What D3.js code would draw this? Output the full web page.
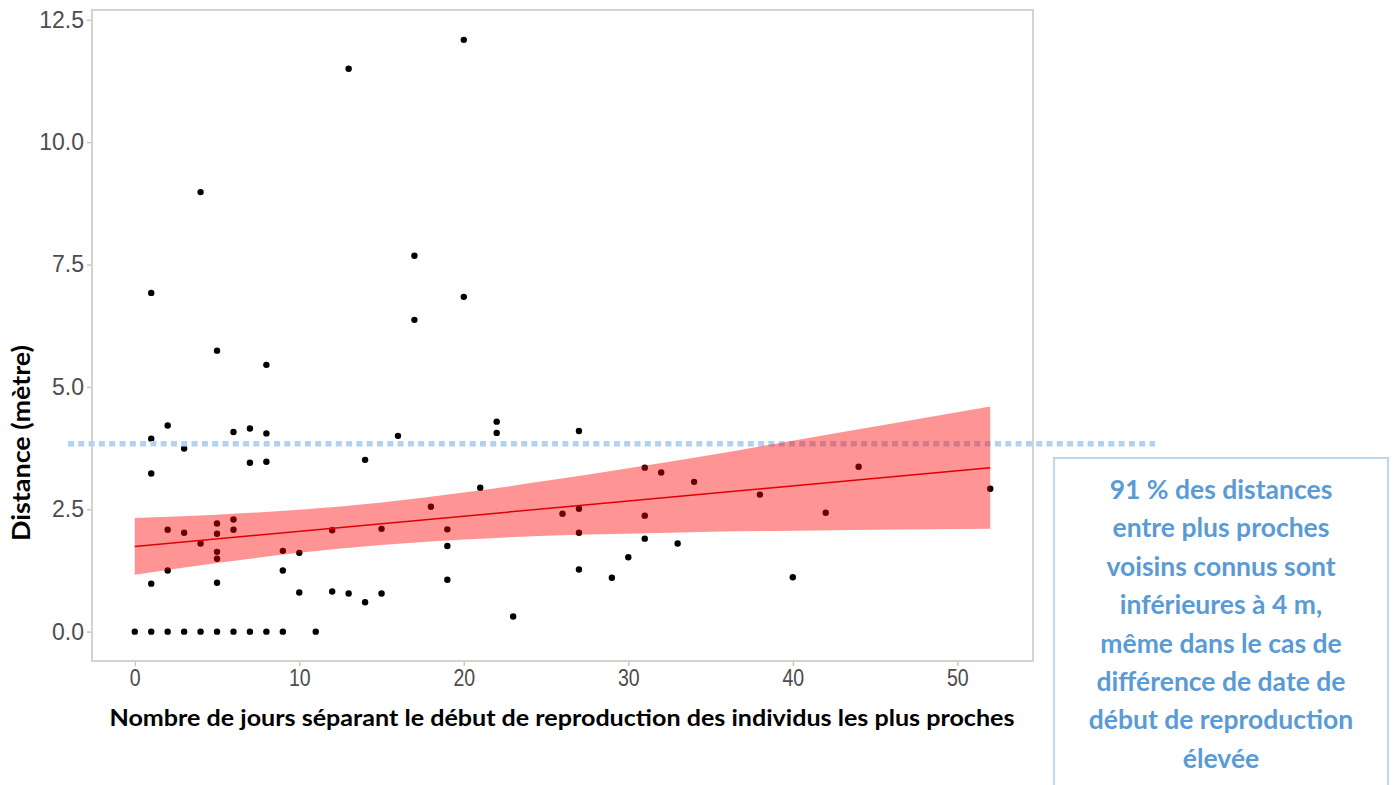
<!DOCTYPE html>
<html>
<head>
<meta charset="utf-8">
<script src="https://cdn.jsdelivr.net/npm/d3@7"></script>
<style>
  body { margin: 0; background: #fff; }
  svg { display: block; }
</style>
</head>
<body>
<div id="chart"></div>
<script>
// jours séparant le début de reproduction / distance au plus proche voisin (m)
let days = [
  0,
  1, 1, 1, 1, 1,
  2, 2, 2, 2,
  3, 3, 3,
  4, 4, 4,
  5, 5, 5, 5, 5, 5, 5,
  6, 6, 6, 6,
  7, 7, 7,
  8, 8, 8, 8,
  9, 9, 9,
  10, 10,
  11,
  12, 12,
  13, 13,
  14, 14,
  15, 15,
  16,
  17, 17,
  18,
  19, 19, 19,
  20, 20,
  21,
  22, 22,
  23,
  26,
  27, 27, 27, 27,
  29,
  30,
  31, 31, 31,
  32,
  33,
  34,
  38,
  40,
  42,
  44,
  52
];
let distances = [
  0,
  0, 0.98, 3.23, 3.94, 6.92,
  0, 1.25, 2.08, 4.21,
  0, 2.02, 3.74,
  0, 1.8, 8.98,
  0, 1.0, 1.49, 1.63, 2.0, 2.21, 5.74,
  0, 2.08, 2.29, 4.08,
  0, 3.45, 4.15,
  0, 3.47, 4.05, 5.45,
  0, 1.25, 1.65,
  0.8, 1.61,
  0,
  0.82, 2.07,
  0.78, 11.5,
  0.6, 3.51,
  0.78, 2.1,
  4.0,
  6.37, 7.68,
  2.55,
  1.06, 1.75, 2.09,
  6.84, 12.09,
  2.94,
  4.06, 4.29,
  0.31,
  2.41,
  1.27, 2.02, 2.51, 4.1,
  1.1,
  1.52,
  1.9, 2.37, 3.35,
  3.25,
  1.8,
  3.06,
  2.8,
  1.11,
  2.43,
  3.37,
  2.92
];

// droite de régression et intervalle de confiance
let fitDays = [0, 52];
let fitValues = [1.74, 3.35];
let bandDays = [0, 5, 10, 15, 20, 25, 30, 35, 40, 45, 52];
let bandUpper = [2.32, 2.39, 2.49, 2.64, 2.84, 3.08, 3.34, 3.61, 3.9, 4.19, 4.6];
let bandLower = [1.16, 1.4, 1.61, 1.77, 1.88, 1.96, 2.0, 2.04, 2.06, 2.08, 2.1];

let xTicks = [0, 10, 20, 30, 40, 50];
let yTicks = [0, 2.5, 5, 7.5, 10, 12.5];

let thresholdValue = 3.84;
let noteLines = [
  '91 % des distances',
  'entre plus proches',
  'voisins connus sont',
  'inférieures à 4 m,',
  'même dans le cas de',
  'différence de date de',
  'début de reproduction',
  'élevée'
];

let width = 1394;
let height = 785;
let panel = { left: 92, right: 1033, top: 10, bottom: 661 };

let x = d3.scaleLinear().domain([-2.6, 54.6]).range([panel.left, panel.right]);
let y = d3.scaleLinear().domain([-0.6, 12.7]).range([panel.bottom, panel.top]);

let svg = d3
  .select('#chart')
  .append('svg')
  .attr('width', width)
  .attr('height', height);

// cadre du panneau
svg
  .append('rect')
  .attr('x', panel.left)
  .attr('y', panel.top)
  .attr('width', panel.right - panel.left)
  .attr('height', panel.bottom - panel.top)
  .attr('fill', '#fff')
  .attr('stroke', '#d4d4cc')
  .attr('stroke-width', 2);

let xAxis = svg
  .append('g')
  .attr('transform', `translate(0, ${panel.bottom + 1})`)
  .call(d3.axisBottom(x).tickValues(xTicks).tickSize(4).tickPadding(4).tickFormat(d3.format('d')));

let yAxis = svg
  .append('g')
  .attr('transform', `translate(${panel.left - 1}, 0)`)
  .call(d3.axisLeft(y).tickValues(yTicks).tickSize(4).tickPadding(3).tickFormat(d3.format('.1f')));

[xAxis, yAxis].forEach((g) => {
  g.select('.domain').remove();
  g.selectAll('.tick line').attr('stroke', '#c8c8c0').attr('stroke-width', 1.5);
  g.selectAll('.tick text')
    .attr('fill', '#4d4d4d')
    .style('font-family', '"Liberation Sans", Arial, sans-serif')
    .style('font-size', '23px');
});
xAxis.selectAll('.tick text').attr('transform', 'scale(0.85,1)');

// points
svg
  .append('g')
  .selectAll('circle')
  .data(days.map((d, i) => ({ day: d, dist: distances[i] })))
  .enter()
  .append('circle')
  .attr('cx', (d) => x(d.day))
  .attr('cy', (d) => y(d.dist))
  .attr('r', 3.2)
  .attr('fill', '#000');

// ligne pointillée du seuil
svg
  .append('line')
  .attr('x1', 68)
  .attr('x2', 1155)
  .attr('y1', y(thresholdValue))
  .attr('y2', y(thresholdValue))
  .attr('stroke', '#b4d2ee')
  .attr('stroke-width', 5.5)
  .attr('stroke-dasharray', '6,4.3');

// intervalle de confiance
let area = d3
  .area()
  .x((d, i) => x(bandDays[i]))
  .y0((d, i) => y(bandLower[i]))
  .y1((d, i) => y(bandUpper[i]))
  .curve(d3.curveMonotoneX);

svg
  .append('path')
  .datum(bandDays)
  .attr('d', area)
  .attr('fill', '#ff0000')
  .attr('fill-opacity', 0.42);

let line = d3
  .line()
  .x((d, i) => x(fitDays[i]))
  .y((d, i) => y(fitValues[i]));

svg
  .append('path')
  .datum(fitDays)
  .attr('d', line)
  .attr('fill', 'none')
  .attr('stroke', '#dd0000')
  .attr('stroke-width', 1.5);

// titres des axes
svg
  .append('text')
  .attr('x', 562)
  .attr('y', 726)
  .attr('text-anchor', 'middle')
  .attr('textLength', 905)
  .attr('lengthAdjust', 'spacingAndGlyphs')
  .style('font-family', 'Lato, "Open Sans", sans-serif')
  .style('font-weight', 700)
  .style('font-size', '22px')
  .text('Nombre de jours séparant le début de reproduction des individus les plus proches');

svg
  .append('text')
  .attr('transform', 'translate(30, 443) rotate(-90)')
  .attr('text-anchor', 'middle')
  .attr('textLength', 196)
  .attr('lengthAdjust', 'spacingAndGlyphs')
  .style('font-family', 'Lato, "Open Sans", sans-serif')
  .style('font-weight', 700)
  .style('font-size', '25px')
  .text('Distance (mètre)');

// encadré
svg
  .append('rect')
  .attr('x', 1054)
  .attr('y', 458)
  .attr('width', 334)
  .attr('height', 340)
  .attr('fill', 'none')
  .attr('stroke', '#bdd7ee')
  .attr('stroke-width', 2);

svg
  .append('g')
  .selectAll('text')
  .data(noteLines)
  .enter()
  .append('text')
  .attr('x', 1221)
  .attr('y', (d, i) => 499 + i * 38.4)
  .attr('text-anchor', 'middle')
  .attr('fill', '#5b9bd5')
  .style('font-family', 'Lato, "Open Sans", sans-serif')
  .style('font-weight', 700)
  .style('font-size', '26.5px')
  .text((d) => d);
</script>
</body>
</html>
